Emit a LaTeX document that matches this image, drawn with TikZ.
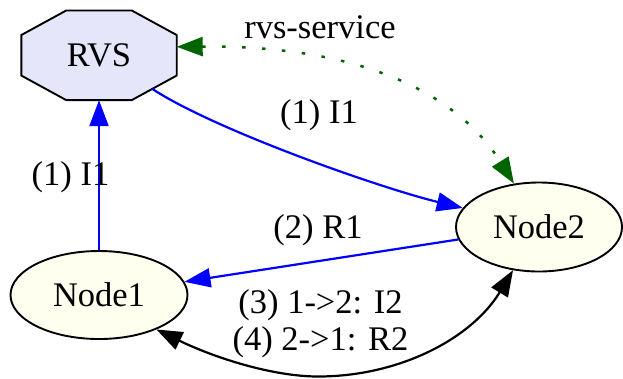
\documentclass[tikz,border=0pt]{standalone}
\usepackage{fontspec}
\setmainfont{Liberation Serif}
\usetikzlibrary{arrows.meta,shapes.geometric,calc,backgrounds}
\definecolor{rvsfill}{HTML}{E6E6FA}
\definecolor{hostfill}{HTML}{FFFFF0}
\definecolor{svcgreen}{HTML}{006400}
\begin{document}
\begin{tikzpicture}[x=1pt,y=-1pt,
  every node/.style={font=\fontsize{34.5pt}{37pt}\selectfont},
  hostshape/.style={ellipse, draw=black, line width=1.9pt, fill=hostfill, inner sep=0pt},
  serverbox/.style={rectangle, inner sep=0pt, minimum width=155pt, minimum height=89.3pt},
  octagonline/.style={draw=black, line width=1.9pt, fill=rvsfill, line join=miter},
  msg/.style={draw=blue, line width=2.2pt, -{Triangle[length=26pt,width=19pt]}},
  pairmsg/.style={draw=black, line width=2.2pt, {Triangle[length=26pt,width=19pt]}-{Triangle[length=26pt,width=19pt]}},
  service/.style={draw=svcgreen, line width=2.5pt, dash pattern=on 3.5pt off 16.5pt,
    {Triangle[length=26pt,width=19pt]}-{Triangle[length=26pt,width=19pt]}},
  lbl/.style={anchor=base, inner sep=0pt}
]
\useasboundingbox (0,0) rectangle (623,378);

% hosts
\node[serverbox] (rvs) at (99,55.3) {RVS};
\node[hostshape, minimum width=177pt, minimum height=88pt] (node1) at (99,295) {Node1};
\node[hostshape, minimum width=166pt, minimum height=89pt] (node2) at (539,227) {Node2};

% octagonal outline of the rendezvous server
\begin{scope}[on background layer]
  \draw[octagonline]
    ($(rvs.north west)+(45,0)$) -- ($(rvs.north east)+(-45,0)$)
    -- ($(rvs.north east)+(0,24.6)$) -- ($(rvs.south east)+(0,-24.6)$)
    -- ($(rvs.south east)+(-45,0)$) -- ($(rvs.south west)+(45,0)$)
    -- ($(rvs.south west)+(0,-24.6)$) -- ($(rvs.north west)+(0,24.6)$)
    -- cycle;
\end{scope}

% attachment points on the octagon
\coordinate (rvsE) at ($(rvs.east)+(0,-8.5)$);
\coordinate (rvsSE) at ($(rvs.south east)+(-24.5,-11.3)$);

% (1) I1 from Node1 via RVS to Node2
\draw[msg] (node1) -- (rvs);
\node[lbl] (lblIa) at (70.5,185) {(1) I1};
\draw[msg] (rvsSE) .. controls (215,130) and (380,188) .. (node2.166);
\node[lbl] (lblIb) at (319,123) {(1) I1};

% (2) R1 back to Node1
\draw[msg] (node2) -- (node1);
\node[lbl] (lblR) at (318,238) {(2) R1};

% (3)/(4) direct exchange
\coordinate (low) at (318,376.5);
\draw[pairmsg] (node1.-31) .. controls (215,358) and (273,376.5) .. (low)
  .. controls (400,376.5) and (472,338) .. (node2.-121);
\node[align=center, inner sep=0pt] (lblX) at (320.5,323.2) {(3) 1->2: I2\\(4) 2->1: R2};

% rendezvous service registration
\draw[service] (rvsE) .. controls (380,45) and (465,105) .. (node2.120);
\node[lbl] (lblS) at (320,38) {rvs-service};
\end{tikzpicture}
\end{document}
